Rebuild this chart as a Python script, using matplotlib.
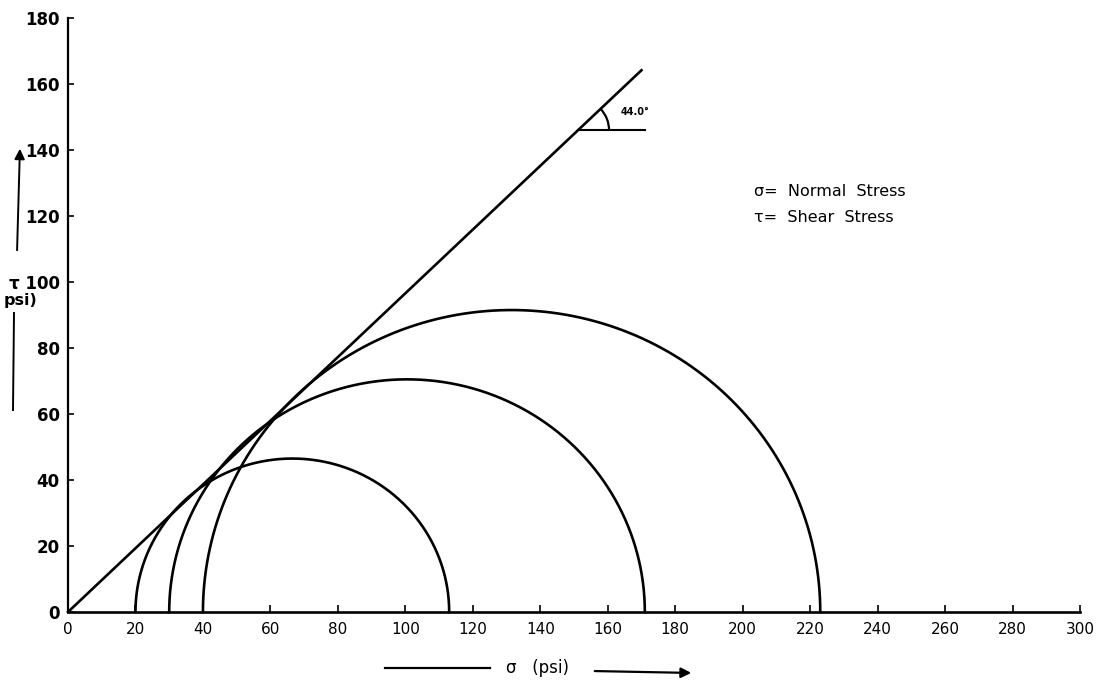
import numpy as np
import matplotlib
matplotlib.use("Agg")
import matplotlib.pyplot as plt
from matplotlib.patches import Arc, FancyArrowPatch
from matplotlib.lines import Line2D

# Data
circle_sigma3 = [20, 30, 40]        # minor principal stress (psi)
circle_sigma1 = [113, 171, 223]     # major principal stress (psi)
envelope_angle = 44.0               # degrees
envelope_end_sigma = 170
x_ticks = list(range(0, 301, 20))
y_ticks = list(range(0, 181, 20))
y_tick_labels = [str(v) if v != 100 else "τ 100" for v in y_ticks]

W, H = 1109, 686
fig = plt.figure(figsize=(W/100, H/100), dpi=100)
ax = fig.add_axes([68/W, 1-612/H, (1080-68)/W, (612-18)/H])
ax.set_xlim(0, 300)
ax.set_ylim(0, 180)

lw = 1.9
# Mohr circles (upper halves)
th = np.linspace(0, np.pi, 400)
for s3, s1 in zip(circle_sigma3, circle_sigma1):
    c = (s1 + s3) / 2
    r = (s1 - s3) / 2
    ax.plot(c + r*np.cos(th), r*np.sin(th), color="black", lw=lw, clip_on=False)

# Failure envelope
slope = np.tan(np.radians(envelope_angle))
xs = np.array([0, envelope_end_sigma])
ax.plot(xs, slope*xs, color="black", lw=lw, clip_on=False)

# Angle marker
tau_h = 146
s_h = tau_h / slope
ax.plot([s_h, envelope_end_sigma + 1], [tau_h, tau_h], color="black", lw=1.5)
r_arc = 9.2
# keep arc circular in pixel space
px_per_x = (1080-68)/300
px_per_y = (612-18)/180
ax.add_patch(Arc((s_h, tau_h), 2*r_arc, 2*r_arc*px_per_x/px_per_y,
                 theta1=0, theta2=envelope_angle, color="black", lw=1.6))
ax.text(s_h + 12.5, tau_h + 5.5, "44.0°", fontsize=7, fontweight="bold", va="center")

# Legend text
ax.text(203.5, 127.5, "σ=  Normal  Stress", fontsize=11.5, va="center")
ax.text(203.5, 119.5, "τ=  Shear  Stress", fontsize=11.5, va="center")

# Axes styling
for s in ["top", "right"]:
    ax.spines[s].set_visible(False)
ax.spines["left"].set_linewidth(1.6)
ax.spines["bottom"].set_linewidth(1.9)
ax.set_xticks(x_ticks)
ax.set_yticks(y_ticks)
ax.set_yticklabels(y_tick_labels)
ax.tick_params(axis="x", direction="in", length=5, width=1.2, labelsize=11, pad=7)
ax.tick_params(axis="y", direction="in", length=4, width=1.2, labelsize=12, pad=6)
for lbl in ax.get_yticklabels():
    lbl.set_fontweight("bold")

# y-axis label pieces and arrows
fig.text(4/W, 1-300/H, "psi)", fontsize=11.5, fontweight="bold", va="center", ha="left")
fig.add_artist(FancyArrowPatch((17/W, 1-253/H), (20/W, 1-146/H),
               transform=fig.transFigure, arrowstyle="-|>", mutation_scale=15,
               lw=1.4, color="black"))
fig.add_artist(Line2D([14/W, 13/W], [1-313/H, 1-410/H],
               transform=fig.transFigure, lw=1.4, color="black"))

# x-axis label and arrows
fig.text(537/W, 1-668/H, "σ   (psi)", fontsize=12, va="center", ha="center")
fig.add_artist(Line2D([385/W, 490/W], [1-668/H, 1-668/H],
               transform=fig.transFigure, lw=1.6, color="black"))
fig.add_artist(FancyArrowPatch((592/W, 1-671/H), (694/W, 1-673/H),
               transform=fig.transFigure, arrowstyle="-|>", mutation_scale=15,
               lw=1.6, color="black"))

fig.savefig("out.png", dpi=100)
